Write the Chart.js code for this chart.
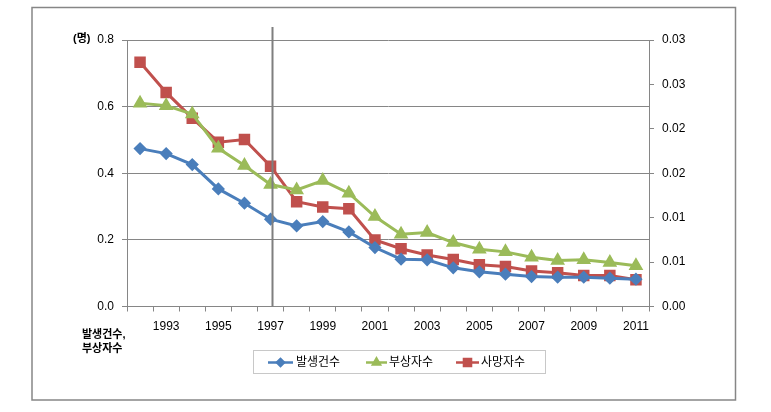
<!DOCTYPE html>
<html><head><meta charset="utf-8">
<script src="https://cdn.jsdelivr.net/npm/chart.js@4/dist/chart.umd.min.js"></script>
<style>html,body{margin:0;padding:0;background:#fff;}canvas{display:block;}</style>
</head><body>
<canvas id="c" width="771" height="412"></canvas>
<script>
const years = ['1992','1993','1994','1995','1996','1997','1998','1999','2000','2001','2002','2003','2004','2005','2006','2007','2008','2009','2010','2011'];
const accidents = [0.474,0.459,0.426,0.353,0.310,0.262,0.242,0.255,0.224,0.177,0.142,0.140,0.116,0.104,0.097,0.090,0.088,0.088,0.085,0.082];
const injured = [0.610,0.603,0.578,0.475,0.423,0.366,0.350,0.378,0.340,0.270,0.217,0.222,0.192,0.172,0.164,0.148,0.138,0.140,0.132,0.122];
const deaths = [0.0275,0.0241,0.0212,0.0185,0.0188,0.0158,0.0118,0.0112,0.0110,0.0075,0.0065,0.0058,0.0053,0.0047,0.0045,0.0040,0.0038,0.0035,0.0035,0.0030];
const seriesNames = ['발생건수','부상자수','사망자수'];
const leftTickLabels = ['0.0','0.2','0.4','0.6','0.8'];
const rightTickLabels = ['0.00','0.01','0.01','0.02','0.02','0.03','0.03'];
const markerYear = '1997';
const leftUnit = '(명)';
const leftNote = ['발생건수,','부상자수'];

const BLUE = '#4a7ebb', GREEN = '#9bbb59', RED = '#c0504d', GRAY = '#868686';
const FONT = "'Liberation Sans', 'Noto Sans CJK KR', sans-serif";

const decor = {
  id: 'decor',
  beforeDraw(chart) {
    const ctx = chart.ctx;
    ctx.save();
    ctx.fillStyle = '#fff';
    ctx.fillRect(0, 0, chart.width, chart.height);
    ctx.strokeStyle = GRAY; ctx.lineWidth = 1.5;
    ctx.strokeRect(32, 7.5, 703.5, 392.5);
    ctx.restore();
  },
  afterDatasetsDraw(chart) {
    const ctx = chart.ctx;
    const xs = chart.scales.x, ca = chart.chartArea;
    ctx.save();
    // reference line
    const xv = Math.round(xs.getPixelForValue(years.indexOf(markerYear))) + 1.5;
    ctx.strokeStyle = '#7f7f7f'; ctx.lineWidth = 2;
    ctx.beginPath(); ctx.moveTo(xv, ca.top - 13); ctx.lineTo(xv, ca.bottom); ctx.stroke();
    // texts
    ctx.fillStyle = '#000';
    ctx.font = "bold 11px " + FONT;
    ctx.textBaseline = 'middle'; ctx.textAlign = 'left';
    ctx.fillText(leftUnit, 73, 39);
    ctx.fillText(leftNote[0], 82, 335);
    ctx.fillText(leftNote[1], 82, 349);
    // legend
    ctx.strokeStyle = '#c8c8c8'; ctx.lineWidth = 1;
    ctx.strokeRect(253.5, 350.5, 292, 23);
    const items = [
      {c: BLUE, s: 'rectRot', r: 3.5, x0: 268, x1: 293, tx: 296},
      {c: GREEN, s: 'triangle', r: 4, x0: 366, x1: 387, tx: 389},
      {c: RED, s: 'rect', r: 5, x0: 456, x1: 479, tx: 481}
    ];
    const ly = 362.5;
    ctx.font = "12px " + FONT;
    items.forEach((it, i) => {
      ctx.strokeStyle = it.c; ctx.fillStyle = it.c; ctx.lineWidth = 2.5;
      ctx.beginPath(); ctx.moveTo(it.x0, ly); ctx.lineTo(it.x1, ly); ctx.stroke();
      Chart.helpers.drawPoint(ctx, {pointStyle: it.s, radius: it.r, borderWidth: 1}, (it.x0 + it.x1) / 2, ly);
      ctx.fillStyle = '#000';
      ctx.fillText(seriesNames[i], it.tx, ly);
    });
    ctx.restore();
  }
};

new Chart(document.getElementById('c'), {
  type: 'line',
  data: {
    labels: years,
    datasets: [
      {label: seriesNames[0], data: accidents, yAxisID: 'y', borderColor: BLUE, backgroundColor: BLUE, borderWidth: 3, pointStyle: 'rectRot', pointRadius: 4.5, tension: 0},
      {label: seriesNames[1], data: injured, yAxisID: 'y', borderColor: GREEN, backgroundColor: GREEN, borderWidth: 3, pointStyle: 'triangle', pointRadius: 5.5, tension: 0},
      {label: seriesNames[2], data: deaths, yAxisID: 'y1', borderColor: RED, backgroundColor: RED, borderWidth: 3, pointStyle: 'rect', pointRadius: 6, tension: 0}
    ]
  },
  options: {
    responsive: false, animation: false, devicePixelRatio: 1,
    layout: {padding: {top: 40, left: 0, right: 0, bottom: 0}},
    plugins: {legend: {display: false}, tooltip: {enabled: false}},
    scales: {
      x: {
        offset: true,
        grid: {display: true, drawOnChartArea: false, drawTicks: true, tickLength: 5, color: GRAY, offset: true},
        border: {display: true, color: GRAY, width: 1},
        ticks: {autoSkip: false, maxRotation: 0, padding: 8, color: '#000', font: {family: FONT, size: 12},
          callback: (v, i) => (i % 2 === 1 ? years[i] : '')},
        afterFit: s => { s.height = 105.5; }
      },
      y: {
        position: 'left', min: 0, max: 0.8,
        grid: {color: GRAY, tickLength: 5, lineWidth: 1},
        border: {display: true, color: GRAY},
        ticks: {stepSize: 0.2, padding: 8, color: '#000', font: {family: FONT, size: 12},
          callback: (v, i) => leftTickLabels[i]},
        afterFit: s => { s.width = 127; }
      },
      y1: {
        position: 'right', min: 0, max: 0.03,
        grid: {drawOnChartArea: false, color: GRAY, tickLength: 5},
        border: {display: true, color: GRAY},
        ticks: {stepSize: 0.005, padding: 8, color: '#000', font: {family: FONT, size: 12},
          callback: (v, i) => rightTickLabels[i]},
        afterFit: s => { s.width = 122; }
      }
    }
  },
  plugins: [decor]
});
</script>
</body></html>
